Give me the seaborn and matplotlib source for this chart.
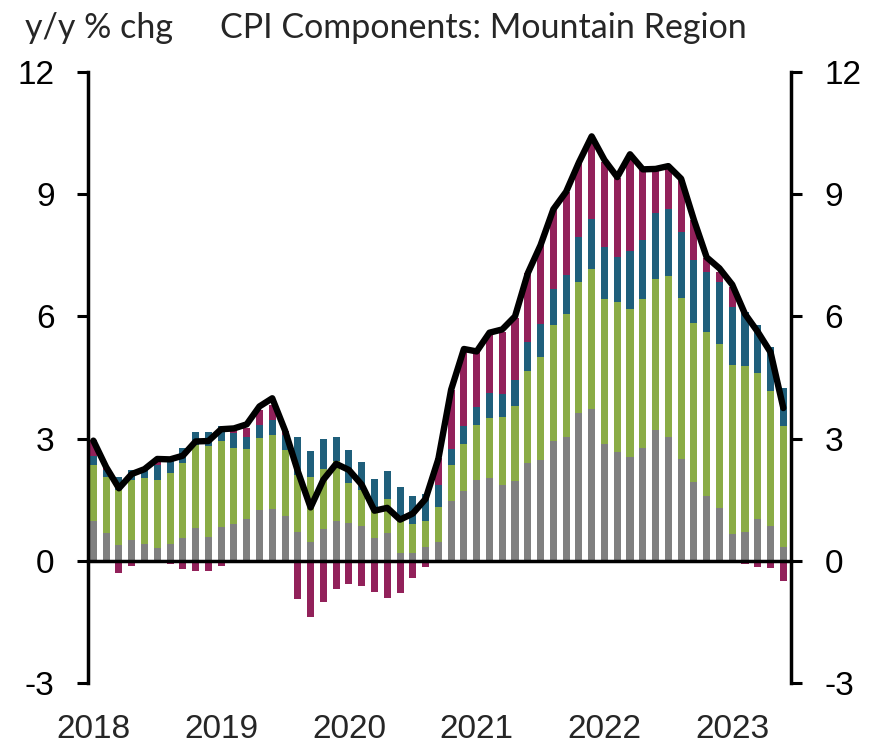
import numpy as np
import pandas as pd
import matplotlib
matplotlib.use("Agg")
import matplotlib.pyplot as plt
import seaborn as sns

# ---------------- Data (y/y % chg contributions) ----------------
years = ['2018', '2019', '2020', '2021', '2022', '2023']

gray = [0.97, 0.68, 0.39, 0.52, 0.42, 0.31, 0.42, 0.55, 0.80, 0.58,
        0.82, 0.91, 1.03, 1.24, 1.28, 1.10, 0.70, 0.47, 0.79, 0.97,
        0.92, 0.86, 0.55, 0.68, 0.19, 0.19, 0.33, 0.45, 1.47, 1.72,
        1.99, 2.04, 1.85, 1.95, 2.40, 2.48, 2.94, 3.05, 3.64, 3.73,
        2.86, 2.66, 2.56, 2.76, 3.21, 3.03, 2.50, 1.93, 1.58, 1.29,
        0.66, 0.70, 1.03, 0.86, 0.35]

green = [1.39, 1.37, 1.35, 1.47, 1.62, 1.68, 1.73, 1.85, 2.05, 2.24,
         2.12, 1.87, 1.72, 1.77, 1.81, 1.62, 1.41, 1.58, 1.46, 1.47,
         1.00, 0.88, 0.69, 0.83, 0.90, 0.72, 0.65, 0.86, 0.89, 1.14,
         1.35, 1.46, 1.69, 1.84, 2.25, 2.53, 2.85, 3.01, 3.20, 3.43,
         3.57, 3.69, 3.62, 3.67, 3.71, 3.96, 3.96, 3.92, 4.03, 4.04,
         4.15, 4.09, 3.58, 3.30, 2.95]

blue = [0.22, 0.18, 0.31, 0.24, 0.19, 0.37, 0.29, 0.38, 0.32, 0.35,
        0.38, 0.35, 0.30, 0.33, 0.37, 0.37, 0.92, 0.65, 0.74, 0.59,
        0.79, 0.68, 0.76, 0.70, 0.72, 0.67, 0.66, 0.56, 0.39, 0.44,
        0.43, 0.63, 0.56, 0.65, 0.71, 0.81, 0.88, 0.96, 1.12, 1.23,
        1.28, 1.10, 1.43, 1.45, 1.61, 1.65, 1.62, 1.54, 1.49, 1.52,
        1.42, 1.33, 1.18, 1.08, 0.94]

magenta = [0.39, 0.05, -0.30, -0.12, -0.03, 0.08, -0.08, -0.20, -0.26, -0.25,
           -0.12, 0.08, 0.22, 0.37, 0.37, 0.10, -0.94, -1.39, -1.00, -0.70,
           -0.58, -0.63, -0.77, -0.91, -0.80, -0.43, -0.15, 0.65, 1.45, 1.84,
           1.37, 1.46, 1.51, 1.52, 1.70, 1.93, 1.96, 2.04, 1.80, 1.94,
           2.09, 1.94, 2.27, 1.72, 1.07, 1.04, 1.27, 0.98, 0.33, 0.25,
           0.50, -0.08, -0.16, -0.18, -0.49]

total = [2.95, 2.30, 1.78, 2.13, 2.25, 2.50, 2.49, 2.58, 2.93, 2.94,
         3.23, 3.25, 3.35, 3.79, 3.99, 3.20, 2.20, 1.31, 1.99, 2.38,
         2.23, 1.87, 1.23, 1.30, 1.01, 1.16, 1.52, 2.50, 4.20, 5.20,
         5.14, 5.60, 5.68, 6.00, 7.06, 7.75, 8.63, 9.06, 9.78, 10.42,
         9.84, 9.42, 9.98, 9.61, 9.62, 9.69, 9.38, 8.37, 7.45, 7.18,
         6.78, 6.06, 5.62, 5.12, 3.75]

# stacked tops (magenta positive sits on top, negative hangs from zero)
df = pd.DataFrame({'gray': gray, 'green': green, 'blue': blue,
                   'magenta': magenta, 'total': total})
df['idx'] = np.arange(len(df))
df['c1'] = df['gray']
df['c2'] = df['c1'] + df['green']
df['c3'] = df['c2'] + df['blue']
df['c4'] = df['c3'] + df['magenta'].clip(lower=0)
df['neg'] = df['magenta'].clip(upper=0)

col_gray = '#808080'
col_green = '#8AAC46'
col_blue = '#1F5F7B'
col_mag = '#92215A'

sns.set_style('white')
plt.rcParams['font.family'] = ['Liberation Sans', 'DejaVu Sans']
plt.rcParams['axes.unicode_minus'] = False

fig = plt.figure(figsize=(8.85, 7.46), dpi=100)
ax = fig.add_axes([88/885, 1 - 683/746, (791 - 88)/885, (683 - 72)/746])

bw = 0.55
for col, c in [('c4', col_mag), ('c3', col_blue), ('c2', col_green),
               ('c1', col_gray), ('neg', col_mag)]:
    sns.barplot(data=df, x='idx', y=col, native_scale=True, width=bw,
                color=c, saturation=1, linewidth=0, ax=ax)

sns.lineplot(data=df, x='idx', y='total', color='black', linewidth=4.6,
             ax=ax)

ax.set_xlim(-0.42, 54.6)
ax.set_ylim(-3, 12)
ax.set_yticks([-3, 0, 3, 6, 9, 12])
ax.set_xlabel('')
ax.set_ylabel('')

ax.spines['top'].set_visible(False)
for s in ['left', 'right']:
    ax.spines[s].set_linewidth(2.5)
    ax.spines[s].set_color('black')
ax.spines['bottom'].set_position(('data', 0))
ax.spines['bottom'].set_linewidth(2.5)
ax.spines['bottom'].set_color('black')

ax.tick_params(axis='y', which='both', left=True, right=True,
               labelleft=True, labelright=True, direction='out',
               length=8, width=2.2, labelsize=24, pad=16, colors='black')
ax.set_xticks([9.5, 19.5, 29.5, 39.5, 49.5])
ax.set_xticklabels([])
ax.tick_params(axis='x', direction='out', length=8, width=2.5,
               colors='black')

sec = ax.secondary_xaxis('bottom')
sec.set_xticks([0, 10, 20, 30, 40, 50])
sec.set_xticklabels(years)
sec.tick_params(length=0, labelsize=24, pad=22)
sec.spines['bottom'].set_visible(False)

fig.text(25/885, 1 - 28/746, 'y/y % chg', family=['Lato', 'DejaVu Sans'],
         fontsize=24.5, ha='left', va='center')
fig.text(483/885, 1 - 28/746, 'CPI Components: Mountain Region',
         family=['Lato', 'DejaVu Sans'], fontsize=24.5, ha='center',
         va='center')

fig.savefig('out.png', dpi=100)
